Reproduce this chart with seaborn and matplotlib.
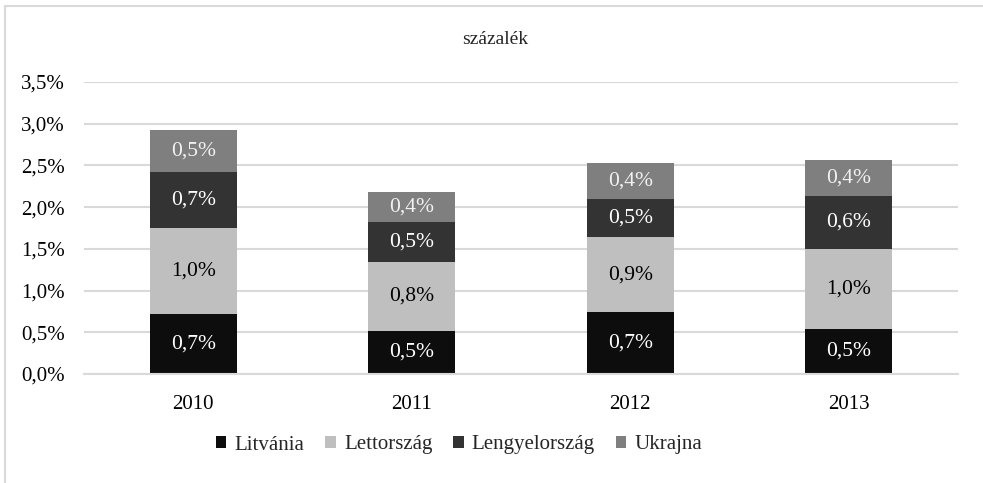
import numpy as np
import pandas as pd
import matplotlib
matplotlib.use("Agg")
import matplotlib.pyplot as plt
from matplotlib.lines import Line2D
from matplotlib.patches import Patch
from matplotlib.ticker import FuncFormatter
import seaborn as sns

# data (percent)
years = ["2010", "2011", "2012", "2013"]
series = ["Litvánia", "Lettország", "Lengyelország", "Ukrajna"]
litvania = [0.716, 0.515, 0.740, 0.539]
lettorszag = [1.038, 0.831, 0.899, 0.963]
lengyelorszag = [0.671, 0.480, 0.459, 0.635]
ukrajna = [0.500, 0.359, 0.427, 0.428]
colors = ["#0d0d0d", "#bfbfbf", "#333333", "#7f7f7f"]
label_colors = ["white", "black", "white", "#f2f2f2"]

df = pd.DataFrame({"year": years, "Litvánia": litvania, "Lettország": lettorszag,
                   "Lengyelország": lengyelorszag, "Ukrajna": ukrajna})

sns.set_theme(style="white")
plt.rcParams["font.family"] = ["Liberation Serif", "DejaVu Serif"]

fig = plt.figure(figsize=(9.83, 4.83), dpi=100)
ax = fig.add_axes([84 / 983, 1 - 374 / 483, (958 - 84) / 983, (374 - 82) / 483])

bottom = np.zeros(len(years))
for name, col, tcol in zip(series, colors, label_colors):
    sns.barplot(data=df, x="year", y=name, color=col, width=0.4, bottom=bottom,
                saturation=1, ax=ax, linewidth=0)
    cont = ax.containers[-1]
    ax.bar_label(cont, labels=[f"{v:.1f}%".replace(".", ",") for v in df[name]],
                 label_type="center", color=tcol, fontsize=15.5)
    bottom = bottom + df[name].values

ax.set_ylim(0, 3.5)
ax.set_yticks(np.arange(0, 3.51, 0.5))
ax.yaxis.set_major_formatter(FuncFormatter(lambda v, p: f"{v:.1f}%".replace(".", ",")))
ax.grid(axis="y", color="#d9d9d9", linewidth=1.5)
ax.set_axisbelow(True)
for s in ["top", "right", "left"]:
    ax.spines[s].set_visible(False)
ax.spines["bottom"].set_color("#d9d9d9")
ax.spines["bottom"].set_linewidth(1.5)
ax.set_xlabel("")
ax.set_ylabel("")
ax.tick_params(axis="y", length=0, pad=14, labelsize=15, labelcolor="black")
ax.tick_params(axis="x", length=0, pad=15, labelsize=15, labelcolor="black")

fig.text(495 / 983, 1 - 40 / 483, "százalék", ha="center", va="center", fontsize=14)

handles = [Patch(facecolor=c, edgecolor="none") for c in colors]
fig.legend(handles, series, loc="center", bbox_to_anchor=(459 / 983, 1 - 445 / 483),
           ncol=4, frameon=False, fontsize=15, handlelength=0.5, handleheight=0.5,
           handletextpad=0.4, columnspacing=1.0)

# outer frame (top and left only)
fig.add_artist(Line2D([5 / 983, 1], [1 - 6 / 483, 1 - 6 / 483], color="#d9d9d9", linewidth=1.5))
fig.add_artist(Line2D([5 / 983, 5 / 983], [0, 1 - 6 / 483], color="#d9d9d9", linewidth=1.5))

fig.savefig("out.png", dpi=100)
